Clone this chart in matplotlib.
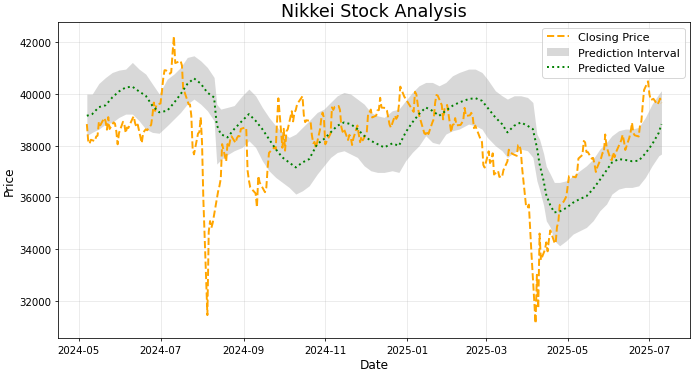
import pandas as pd
import matplotlib
matplotlib.use("Agg")
import matplotlib.pyplot as plt

# Nikkei 225 daily closes
close_dates = [
    "2024-05-07", "2024-05-08", "2024-05-09", "2024-05-10", "2024-05-13", "2024-05-14", "2024-05-15",
    "2024-05-16", "2024-05-17", "2024-05-20", "2024-05-21", "2024-05-22", "2024-05-23", "2024-05-24",
    "2024-05-27", "2024-05-28", "2024-05-29", "2024-05-30", "2024-05-31",
    "2024-06-03", "2024-06-04", "2024-06-05", "2024-06-06", "2024-06-07", "2024-06-10", "2024-06-11",
    "2024-06-12", "2024-06-13", "2024-06-14", "2024-06-17", "2024-06-18", "2024-06-19", "2024-06-20",
    "2024-06-21", "2024-06-24", "2024-06-25", "2024-06-26", "2024-06-27", "2024-06-28",
    "2024-07-01", "2024-07-02", "2024-07-03", "2024-07-04", "2024-07-05", "2024-07-08", "2024-07-09",
    "2024-07-10", "2024-07-11", "2024-07-12", "2024-07-16", "2024-07-17", "2024-07-18", "2024-07-19",
    "2024-07-22", "2024-07-23", "2024-07-24", "2024-07-25", "2024-07-26", "2024-07-29", "2024-07-30",
    "2024-07-31",
    "2024-08-01", "2024-08-02", "2024-08-05", "2024-08-06", "2024-08-07", "2024-08-08", "2024-08-09",
    "2024-08-13", "2024-08-14", "2024-08-15", "2024-08-16", "2024-08-19", "2024-08-20", "2024-08-21",
    "2024-08-22", "2024-08-23", "2024-08-26", "2024-08-27", "2024-08-28", "2024-08-29", "2024-08-30",
    "2024-09-02", "2024-09-03", "2024-09-04", "2024-09-05", "2024-09-06", "2024-09-09", "2024-09-10",
    "2024-09-11", "2024-09-12", "2024-09-13", "2024-09-17", "2024-09-18", "2024-09-19", "2024-09-20",
    "2024-09-24", "2024-09-25", "2024-09-26", "2024-09-27", "2024-09-30",
    "2024-10-01", "2024-10-02", "2024-10-03", "2024-10-04", "2024-10-07", "2024-10-08", "2024-10-09",
    "2024-10-10", "2024-10-11", "2024-10-15", "2024-10-16", "2024-10-17", "2024-10-18", "2024-10-21",
    "2024-10-22", "2024-10-23", "2024-10-24", "2024-10-25", "2024-10-28", "2024-10-29", "2024-10-30",
    "2024-10-31",
    "2024-11-01", "2024-11-05", "2024-11-06", "2024-11-07", "2024-11-08", "2024-11-11", "2024-11-12",
    "2024-11-13", "2024-11-14", "2024-11-15", "2024-11-18", "2024-11-19", "2024-11-20", "2024-11-21",
    "2024-11-22", "2024-11-25", "2024-11-26", "2024-11-27", "2024-11-28", "2024-11-29",
    "2024-12-02", "2024-12-03", "2024-12-04", "2024-12-05", "2024-12-06", "2024-12-09", "2024-12-10",
    "2024-12-11", "2024-12-12", "2024-12-13", "2024-12-16", "2024-12-17", "2024-12-18", "2024-12-19",
    "2024-12-20", "2024-12-23", "2024-12-24", "2024-12-25", "2024-12-26", "2024-12-27", "2024-12-30",
    "2025-01-06", "2025-01-07", "2025-01-08", "2025-01-09", "2025-01-10", "2025-01-14", "2025-01-15",
    "2025-01-16", "2025-01-17", "2025-01-20", "2025-01-21", "2025-01-22", "2025-01-23", "2025-01-24",
    "2025-01-27", "2025-01-28", "2025-01-29", "2025-01-30", "2025-01-31",
    "2025-02-03", "2025-02-04", "2025-02-05", "2025-02-06", "2025-02-07", "2025-02-10", "2025-02-12",
    "2025-02-13", "2025-02-14", "2025-02-17", "2025-02-18", "2025-02-19", "2025-02-20", "2025-02-21",
    "2025-02-25", "2025-02-26", "2025-02-27", "2025-02-28",
    "2025-03-03", "2025-03-04", "2025-03-05", "2025-03-06", "2025-03-07", "2025-03-10", "2025-03-11",
    "2025-03-12", "2025-03-13", "2025-03-14", "2025-03-17", "2025-03-18", "2025-03-19", "2025-03-21",
    "2025-03-24", "2025-03-25", "2025-03-26", "2025-03-27", "2025-03-28", "2025-03-31",
    "2025-04-01", "2025-04-02", "2025-04-03", "2025-04-04", "2025-04-07", "2025-04-08", "2025-04-09",
    "2025-04-10", "2025-04-11", "2025-04-14", "2025-04-15", "2025-04-16", "2025-04-17", "2025-04-18",
    "2025-04-21", "2025-04-22", "2025-04-23", "2025-04-24", "2025-04-25", "2025-04-28", "2025-04-30",
    "2025-05-01", "2025-05-02", "2025-05-07", "2025-05-08", "2025-05-09", "2025-05-12", "2025-05-13",
    "2025-05-14", "2025-05-15", "2025-05-16", "2025-05-19", "2025-05-20", "2025-05-21", "2025-05-22",
    "2025-05-23", "2025-05-26", "2025-05-27", "2025-05-28", "2025-05-29", "2025-05-30",
    "2025-06-02", "2025-06-03", "2025-06-04", "2025-06-05", "2025-06-06", "2025-06-09", "2025-06-10",
    "2025-06-11", "2025-06-12", "2025-06-13", "2025-06-16", "2025-06-17", "2025-06-18", "2025-06-19",
    "2025-06-20", "2025-06-23", "2025-06-24", "2025-06-25", "2025-06-26", "2025-06-27", "2025-06-30",
    "2025-07-01", "2025-07-02", "2025-07-03", "2025-07-04", "2025-07-07", "2025-07-08", "2025-07-09",
    "2025-07-10",
]
close_values = [
    38835, 38202, 38073, 38229, 38179, 38356, 38385, 38920, 38787, 39069, 38946, 38617, 39103, 38646,
    38900, 38855, 38556, 38054, 38488,
    38923, 38837, 38490, 38703, 38683, 39038, 39134, 38877, 38720, 38815, 38102, 38482, 38570, 38634,
    38596, 38805, 39173, 39667, 39342, 39583,
    39631, 40074, 40580, 40914, 40912, 40781, 40831, 41580, 42224, 41191, 41275, 41098, 40126, 40064,
    39599, 39594, 39155, 37870, 37667, 38469, 38526, 39102,
    38126, 35910, 31458, 34675, 35090, 34831, 35025, 36233, 36443, 36727, 38063, 37389, 38063, 37951,
    38211, 38364, 38110, 38289, 38372, 38363, 38648,
    38700, 38686, 37048, 36658, 36392, 36216, 36159, 35620, 36833, 36582, 36204, 36380, 37155, 37724,
    37941, 37870, 38926, 39830, 37920,
    38652, 37809, 38552, 38636, 39333, 38938, 39278, 39381, 39606, 39911, 39181, 38911, 38982, 38955,
    38412, 38105, 38143, 37914, 38606, 39028, 39278, 39081,
    38054, 38475, 39481, 39381, 39500, 39534, 39377, 38722, 38536, 38643, 38221, 38415, 38352, 38026,
    38284, 38780, 38442, 38135, 38349, 38208,
    38513, 39249, 39277, 39396, 39091, 39161, 39368, 39373, 39850, 39471, 39458, 39365, 39082, 38814,
    38702, 39161, 39037, 39131, 39568, 40282, 39895,
    39307, 40083, 39982, 39605, 39190, 38475, 38445, 38573, 38451, 38903, 39028, 39646, 39959, 39932,
    39566, 39017, 39415, 39514, 39573,
    38520, 38798, 38832, 39067, 38787, 38801, 38964, 39462, 39149, 39174, 39270, 39165, 38678, 38777,
    38238, 38142, 37256, 37156,
    37786, 37331, 37418, 37705, 36887, 37028, 36793, 36819, 36791, 37053, 37397, 37846, 37752, 37677,
    37608, 38028, 38027, 37800, 37120, 35618,
    35625, 35726, 34736, 33781, 31137, 33013, 31714, 34609, 33586, 33982, 34268, 33920, 34377, 34730,
    34280, 34221, 34869, 35039, 35706, 35840, 36046,
    36452, 36831, 36780, 36929, 37504, 37644, 38183, 38128, 37756, 37754, 37499, 37530, 37299, 36986,
    37160, 37532, 37725, 37723, 38433, 37965,
    37471, 37447, 37747, 37555, 37742, 38089, 38212, 38421, 38174, 37835, 38312, 38537, 38885, 38489,
    38403, 38355, 38791, 38943, 39585, 40151, 40487,
    39986, 39762, 39786, 39811, 39588, 39689, 39821, 39646,
]

# model output, read every ~5 days
pred_dates = [
    "2024-05-07", "2024-05-11", "2024-05-16", "2024-05-21", "2024-05-26", "2024-05-31", "2024-06-05",
    "2024-06-10", "2024-06-15", "2024-06-20", "2024-06-25", "2024-06-30", "2024-07-06", "2024-07-11",
    "2024-07-16", "2024-07-21", "2024-07-26", "2024-07-31", "2024-08-05", "2024-08-10", "2024-08-12",
    "2024-08-15", "2024-08-20", "2024-08-25", "2024-08-31", "2024-09-05", "2024-09-10", "2024-09-15",
    "2024-09-20", "2024-09-25", "2024-09-30", "2024-10-05", "2024-10-10", "2024-10-15", "2024-10-20",
    "2024-10-26", "2024-10-31", "2024-11-05", "2024-11-10", "2024-11-15", "2024-11-20", "2024-11-25",
    "2024-11-30", "2024-12-05", "2024-12-10", "2024-12-15", "2024-12-21", "2024-12-26", "2024-12-31",
    "2025-01-05", "2025-01-10", "2025-01-15", "2025-01-20", "2025-01-25", "2025-01-30", "2025-02-04",
    "2025-02-09", "2025-02-16", "2025-02-21", "2025-02-26", "2025-03-02", "2025-03-08", "2025-03-13",
    "2025-03-17", "2025-03-22", "2025-03-27", "2025-04-01", "2025-04-05", "2025-04-08", "2025-04-10",
    "2025-04-13", "2025-04-15", "2025-04-18", "2025-04-21", "2025-04-25", "2025-04-30", "2025-05-05",
    "2025-05-10", "2025-05-15", "2025-05-20", "2025-05-25", "2025-05-30", "2025-06-03", "2025-06-08",
    "2025-06-13", "2025-06-18", "2025-06-23", "2025-06-28", "2025-07-03", "2025-07-08", "2025-07-10",
]
pred_values = [
    39156, 39220, 39490, 39560, 39864, 40096, 40250, 40280, 40096, 39928, 39540, 39290, 39350, 39650,
    39990, 40380, 40600, 40400, 40050, 39864, 38800, 38448, 38320, 38641, 38963, 39220, 38963, 38641,
    38255, 37869, 37547, 37354, 37161, 37354, 37483, 38062, 38255, 38513, 38770, 38899, 38834, 38641,
    38384, 38191, 38062, 37933, 38088, 37998, 38513, 38899, 39220, 39478, 39349, 39156, 39349, 39542,
    39671, 39800, 39838, 39735, 39478, 39092, 38834, 38513, 38770, 38899, 38770, 38641, 37933, 37290,
    36646, 36100, 35700, 35424, 35460, 35600, 35800, 35940, 36050, 36330, 36680, 37050, 37350, 37483,
    37450, 37400, 37420, 37700, 38050, 38500, 38834,
]
pred_lower = [
    38384, 38513, 38641, 38834, 38899, 39092, 39220, 39220, 38963, 38641, 38513, 38480, 38770, 39027,
    39285, 39606, 39800, 39606, 39349, 38963, 37290, 37450, 37650, 37805, 37933, 38191, 37933, 37418,
    37033, 36775, 36582, 36389, 36132, 36260, 36450, 36904, 37225, 37547, 37740, 37805, 37676, 37547,
    37225, 37033, 36968, 36968, 37033, 36968, 37419, 37740, 37998, 38384, 38127, 38062, 38448, 38577,
    38641, 38834, 38770, 38641, 38320, 37998, 37805, 37547, 37740, 37869, 37805, 37547, 36646, 36300,
    35700, 35100, 34845, 34330, 34137, 34330, 34587, 34716, 34845, 35102, 35488, 35746, 36132, 36324,
    36389, 36389, 36450, 36775, 37225, 37612, 37676,
]
pred_upper = [
    39993, 39993, 40404, 40636, 40829, 40919, 40958, 41215, 40958, 40765, 40380, 40000, 40572, 40765,
    41022, 41408, 41472, 41280, 41022, 40636, 39600, 39413, 39480, 39550, 39928, 40186, 39928, 39478,
    39092, 38770, 38513, 38320, 38448, 38706, 38963, 39285, 39413, 39671, 39928, 40057, 39993, 39800,
    39606, 39285, 39156, 39092, 39349, 39413, 39735, 40057, 40314, 40443, 40443, 40314, 40443, 40701,
    40829, 40958, 40958, 40829, 40572, 40121, 39928, 39800, 39928, 39928, 39864, 39670, 38448, 38250,
    37700, 37200, 36904, 36582, 36582, 36646, 36839, 37033, 37225, 37483, 37869, 38127, 38384, 38577,
    38641, 38641, 38706, 39092, 39606, 39993, 40121,
]

close_dt = pd.to_datetime(close_dates)
pred_dt = pd.to_datetime(pred_dates)

fig, ax = plt.subplots(figsize=(10, 5.371), dpi=70)
fig.subplots_adjust(left=0.083, right=0.986, bottom=0.099, top=0.939)

ax.plot(close_dt, close_values, color="orange", linestyle="--", linewidth=2, label="Closing Price")
ax.fill_between(pred_dt, pred_lower, pred_upper, color="gray", alpha=0.3, linewidth=0,
                label="Prediction Interval")
ax.plot(pred_dt, pred_values, color="green", linestyle=":", linewidth=2, label="Predicted Value")

ax.set_title("Nikkei Stock Analysis", fontsize=18)
ax.set_xlabel("Date", fontsize=12.5)
ax.set_ylabel("Price", fontsize=12.5)
ax.tick_params(labelsize=10.5)
ax.grid(True, alpha=0.3)
ax.legend(loc="upper right", fontsize=11.5)

fig.savefig("out.png", dpi=70)
